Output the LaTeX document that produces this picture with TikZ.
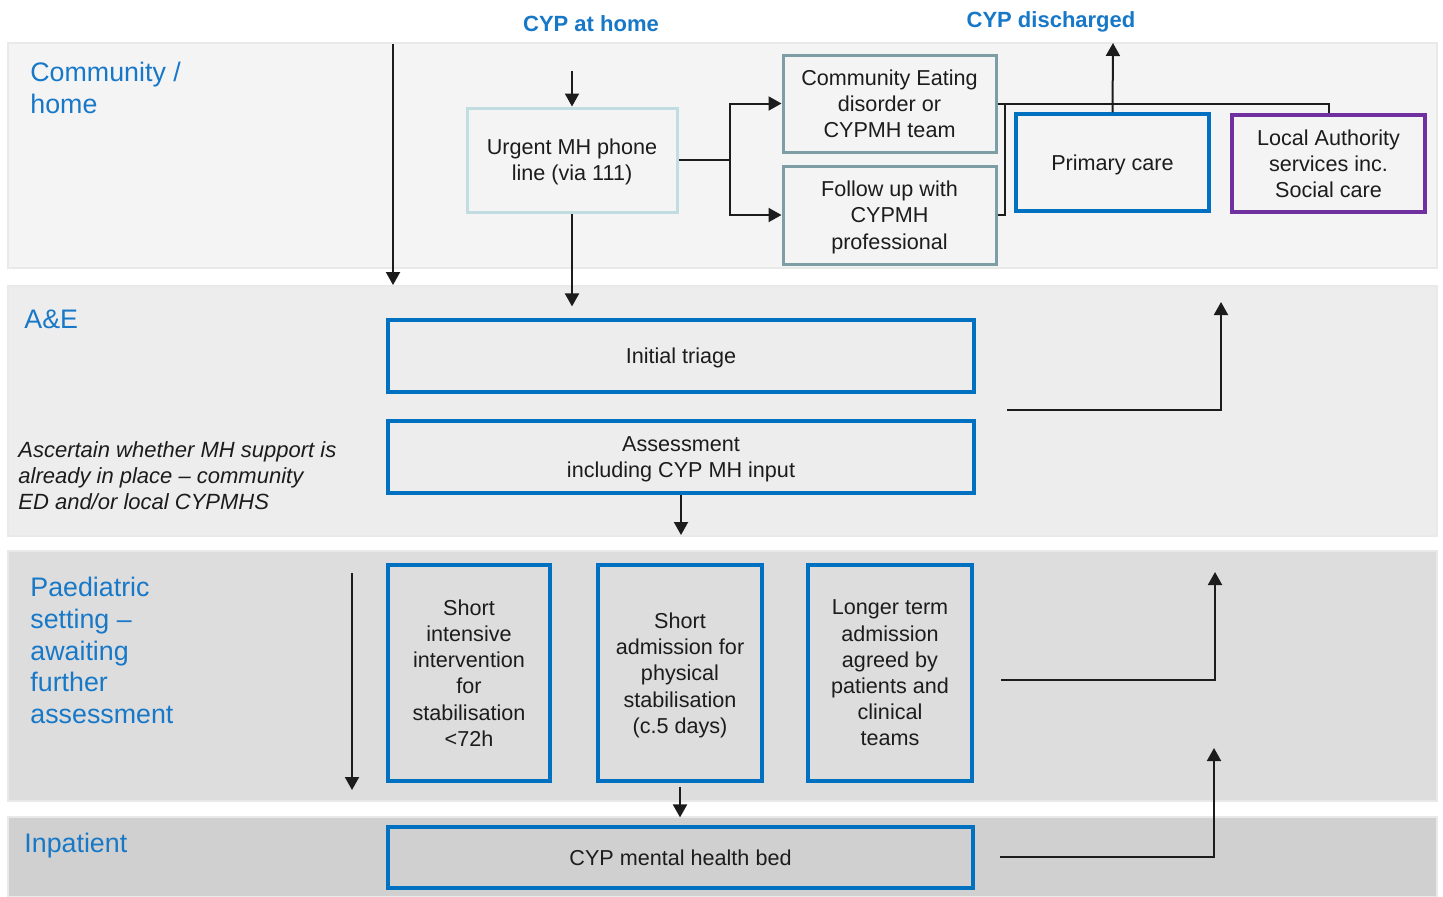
\documentclass[tikz,border=0pt]{standalone}
\usepackage{fontspec}
\setmainfont{Liberation Sans}
\usetikzlibrary{arrows.meta, positioning}
\definecolor{nhsblue}{HTML}{0070C0}
\definecolor{lanetext}{HTML}{1878C8}
\definecolor{lapurple}{HTML}{7030A0}
\definecolor{phoneteal}{HTML}{C2DDE1}
\definecolor{teamteal}{HTML}{7C9EA4}
\definecolor{ink}{HTML}{1C1C1C}
\definecolor{homegrey}{HTML}{F4F4F4}
\definecolor{aegrey}{HTML}{EDEDED}
\definecolor{paedsgrey}{HTML}{DDDDDD}
\definecolor{inpatgrey}{HTML}{D0D0D0}
\definecolor{lanerim}{HTML}{E9E9E9}

\begin{document}
\begin{tikzpicture}[x=0.5pt, y=-0.5pt,
  lane/.style={draw=lanerim, line width=0.6pt},
  lanelabel/.style={anchor=north west, inner sep=0pt, align=left, text=lanetext, font=\fontsize{13.4}{15.8}\selectfont},
  topnote/.style={anchor=base, inner sep=0pt, text=lanetext, font=\fontsize{11}{13}\selectfont\bfseries},
  box/.style={rectangle, align=center, text=ink, inner sep=2pt, text depth=0pt, font=\fontsize{10.8}{13.1}\selectfont},
  phonebox/.style={box, draw=phoneteal, line width=1.5pt},
  teambox/.style={box, draw=teamteal, line width=1.5pt},
  bluebox/.style={box, draw=nhsblue, line width=1.6pt},
  purplebox/.style={box, draw=lapurple, line width=1.6pt},
  flow/.style={-{Triangle[width=7pt,length=6.5pt]}, line width=1pt, draw=ink},
  link/.style={line width=1pt, draw=ink}]
\useasboundingbox[fill=white] (0,0) rectangle (1443,896);

% lanes
\draw[lane, fill=homegrey] (8,43) rectangle (1437,268);
\draw[lane, fill=aegrey] (8,286) rectangle (1437,536);
\draw[lane, fill=paedsgrey] (8,551) rectangle (1437,801);
\draw[lane, fill=inpatgrey] (8,817) rectangle (1437,897);

\node[lanelabel] (homelbl) at (30,62) {Community /\\home};
\node[lanelabel] (aelbl) at (24,310) {A\&E};
\node[lanelabel] (paedslbl) at (30,577) {Paediatric\\setting --\\awaiting\\further\\assessment};
\node[lanelabel] (inpatlbl) at (24,833) {Inpatient};
\node[anchor=north west, inner sep=0pt, align=left, text=ink, font=\fontsize{11}{13.1}\selectfont\itshape] (ascertain) at (18,441)
  {Ascertain whether MH support is\\already in place -- community\\ED and/or local CYPMHS};

\node[topnote] (athome) at (591,31) {CYP at home};
\node[topnote] (discharged) at (1051,27) {CYP discharged};

% community boxes
\node[phonebox, minimum width=105pt, minimum height=52pt] (phone) at (572,160) {Urgent MH phone\\line (via 111)};
\node[teambox, minimum width=106.5pt, minimum height=48.5pt] (ced) at (889.5,103.5) {Community Eating\\disorder or\\CYPMH team};
\node[teambox, minimum width=106.5pt, minimum height=49pt] (followup) at (889.5,215) {Follow up with\\CYPMH\\professional};
\node[bluebox, minimum width=96.5pt, minimum height=48.5pt] (primary) at (1112.5,162.5) {Primary care};
\node[purplebox, minimum width=96.5pt, minimum height=48.5pt] (localauth) at (1328.5,163.5) {Local Authority\\services inc.\\Social care};

% A&E boxes
\node[bluebox, minimum width=293pt, minimum height=36pt] (triage) at (681,356) {Initial triage};
\node[bluebox, minimum width=293pt, minimum height=36pt] (assess) at (681,457) {Assessment\\including CYP MH input};

% paediatric boxes
\node[bluebox, minimum width=81pt, minimum height=108pt] (intensive) at (469,673) {Short\\intensive\\intervention\\for\\stabilisation\\<72h};
\node[bluebox, minimum width=82pt, minimum height=108pt] (shortadm) at (680,673) {Short\\admission for\\physical\\stabilisation\\(c.5 days)};
\node[bluebox, minimum width=82pt, minimum height=108pt] (longer) at (890,673) {Longer term\\admission\\agreed by\\patients and\\clinical\\teams};

% inpatient box
\node[bluebox, minimum width=292.5pt, minimum height=30.5pt] (bed) at (680.5,857.5) {CYP mental health bed};

% free ends of connectors
\coordinate (homestart) at (393,44);
\coordinate (homeend) at (393,285);
\coordinate (phonein) at (572,71);
\coordinate (fork) at (730,160);
\coordinate (join) at (1005,103.5);
\coordinate (dischargeup) at (1113,43);
\coordinate (assessout) at (681,535);
\coordinate (paedsstart) at (352,573);
\coordinate (paedsend) at (352,790);
\coordinate (aeout) at (1007,410);
\coordinate (aeup) at (1221,302);
\coordinate (paedsout) at (1001,680);
\coordinate (paedsup) at (1215,572);
\coordinate (inpatout) at (1000,857);
\coordinate (inpatup) at (1214,748);

% connectors
\draw[flow] (homestart) -- (homeend);
\draw[flow] (phonein) -- (phone.north);
\draw[flow, shorten >=6pt] (phone.south) -- (phone.south |- triage.north);
\draw[link] (phone.east) -- (fork);
\draw[flow] (fork) |- (ced.west);
\draw[flow] (fork) |- (followup.west);
\draw[link] (ced.east) -| (localauth.north);
\draw[link] (followup.east) -| (join);
\draw[flow] (primary.north) -- (dischargeup);
\draw[flow] (assess.south) -- (assessout);
\draw[flow] (paedsstart) -- (paedsend);
\draw[flow, shorten <=2pt, shorten >=4pt] (shortadm.south) -- (shortadm.south |- bed.north);
\draw[flow] (aeout) -| (aeup);
\draw[flow] (paedsout) -| (paedsup);
\draw[flow] (inpatout) -| (inpatup);
\end{tikzpicture}
\end{document}
